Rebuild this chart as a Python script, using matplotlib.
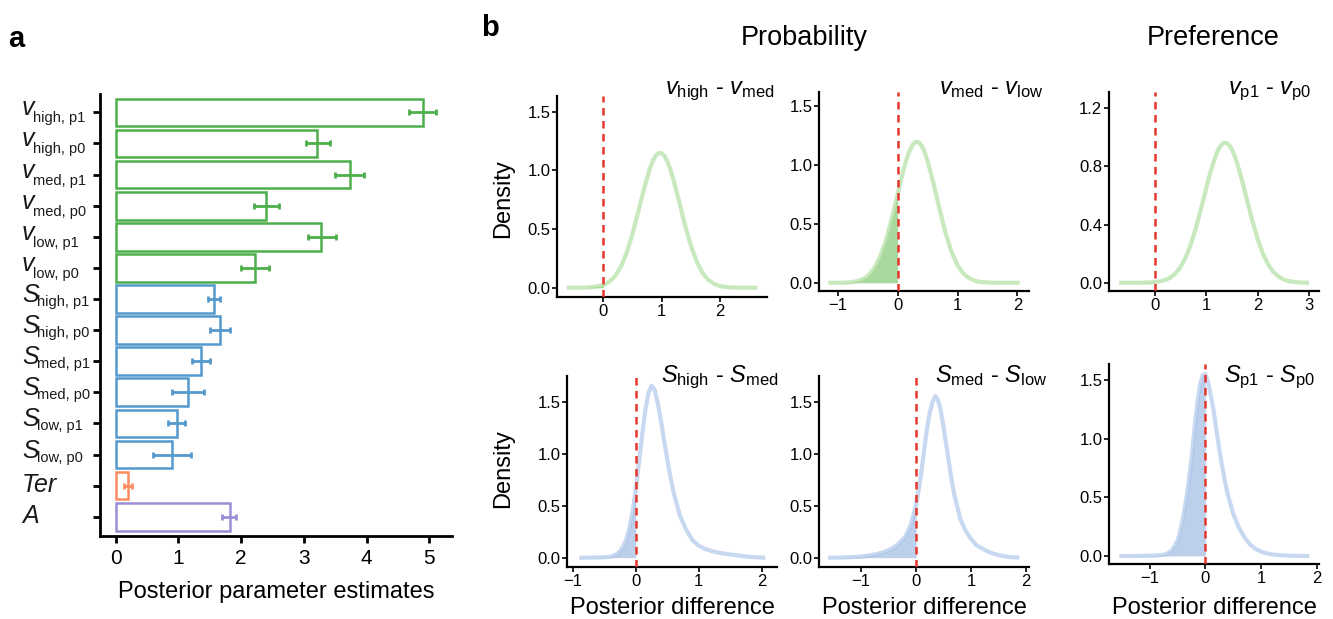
import numpy as np
import matplotlib
matplotlib.use("Agg")
import matplotlib.pyplot as plt
from matplotlib.transforms import offset_copy

plt.rcParams['font.family'] = ['Liberation Sans', 'DejaVu Sans']
plt.rcParams['mathtext.fontset'] = 'custom'
plt.rcParams['mathtext.rm'] = 'Liberation Sans'
plt.rcParams['mathtext.it'] = 'Liberation Sans:italic'
plt.rcParams['mathtext.bf'] = 'Liberation Sans:bold'

# ---------------- data: panel a ----------------
param_symbols = ['v', 'v', 'v', 'v', 'v', 'v', 'S', 'S', 'S', 'S', 'S', 'S', 'Ter', 'A']
param_subscripts = ['high, p1', 'high, p0', 'med, p1', 'med, p0', 'low, p1', 'low, p0',
                    'high, p1', 'high, p0', 'med, p1', 'med, p0', 'low, p1', 'low, p0', '', '']
param_values = [4.89, 3.21, 3.73, 2.40, 3.28, 2.22, 1.56, 1.66, 1.36, 1.16, 0.98, 0.90, 0.20, 1.82]
param_lower = [4.67, 3.03, 3.49, 2.20, 3.06, 1.99, 1.47, 1.50, 1.22, 0.89, 0.84, 0.60, 0.14, 1.70]
param_upper = [5.11, 3.41, 3.96, 2.61, 3.51, 2.45, 1.67, 1.82, 1.50, 1.41, 1.11, 1.20, 0.26, 1.92]
group_colors = {'v': '#4daf4a', 'S': '#5599cc', 'Ter': '#fc8d62', 'A': '#9b8ed6'}
xticks_a = [0, 1, 2, 3, 4, 5]

# ---------------- data: panel b (posterior difference densities) ----------------
vhm_x = [-0.63, -0.5, -0.4, -0.3, -0.2, -0.1, 0.0, 0.1, 0.2, 0.3, 0.4, 0.5, 0.6, 0.7, 0.8, 0.85, 0.9,
         0.95, 1.0, 1.05, 1.1, 1.15, 1.2, 1.3, 1.4, 1.5, 1.6, 1.7, 1.8, 1.9, 2.0, 2.1, 2.2, 2.3, 2.4,
         2.5, 2.64]
vhm_y = [0.0, 0.0, 0.0, 0.001, 0.004, 0.010, 0.023, 0.050, 0.098, 0.178, 0.298, 0.460, 0.651, 0.850,
         1.020, 1.083, 1.127, 1.148, 1.146, 1.120, 1.072, 1.005, 0.923, 0.732, 0.533, 0.358, 0.221,
         0.126, 0.066, 0.032, 0.014, 0.006, 0.002, 0.001, 0.0, 0.0, 0.0]

vml_x = [-1.16, -1.1, -1.0, -0.9, -0.8, -0.7, -0.6, -0.5, -0.4, -0.3, -0.2, -0.1, 0.0, 0.1, 0.15,
         0.2, 0.25, 0.3, 0.35, 0.4, 0.45, 0.5, 0.6, 0.7, 0.8, 0.9, 1.0, 1.1, 1.2, 1.3, 1.4, 1.5, 1.6,
         1.7, 1.8, 1.9, 2.0, 2.04]
vml_y = [0.0, 0.0, 0.0, 0.001, 0.004, 0.011, 0.026, 0.058, 0.116, 0.212, 0.355, 0.542, 0.756, 0.965,
         1.054, 1.124, 1.174, 1.198, 1.195, 1.166, 1.112, 1.037, 0.843, 0.626, 0.425, 0.263, 0.149,
         0.077, 0.037, 0.016, 0.006, 0.002, 0.001, 0.0, 0.0, 0.0, 0.0, 0.0]

vp_x = [-0.69, -0.5, -0.4, -0.3, -0.2, -0.1, 0.0, 0.1, 0.2, 0.3, 0.4, 0.5, 0.6, 0.7, 0.8, 0.9, 1.0,
        1.1, 1.2, 1.25, 1.3, 1.35, 1.4, 1.45, 1.5, 1.55, 1.6, 1.7, 1.8, 1.9, 2.0, 2.1, 2.2, 2.3, 2.4,
        2.5, 2.6, 2.7, 2.8, 2.9, 3.0]
vp_y = [0.0, 0.0, 0.0, 0.0, 0.001, 0.002, 0.004, 0.009, 0.018, 0.034, 0.062, 0.106, 0.171, 0.260,
        0.374, 0.506, 0.647, 0.779, 0.886, 0.924, 0.950, 0.963, 0.961, 0.946, 0.918, 0.877, 0.826,
        0.702, 0.562, 0.425, 0.303, 0.204, 0.129, 0.077, 0.044, 0.023, 0.012, 0.006, 0.002, 0.001,
        0.0]

shm_x = [-0.9, -0.8, -0.7, -0.6, -0.5, -0.4, -0.3, -0.25, -0.2, -0.15, -0.1, -0.05, 0.0, 0.05, 0.1,
         0.15, 0.2, 0.25, 0.3, 0.35, 0.4, 0.45, 0.5, 0.55, 0.6, 0.7, 0.8, 0.9, 1.0, 1.1, 1.2, 1.3,
         1.4, 1.5, 1.6, 1.7, 1.8, 1.9, 2.06]
shm_y = [0.0, 0.0, 0.001, 0.002, 0.004, 0.010, 0.035, 0.065, 0.11, 0.18, 0.29, 0.45, 0.66, 0.92, 1.18,
         1.42, 1.59, 1.66, 1.62, 1.49, 1.32, 1.13, 0.95, 0.78, 0.63, 0.41, 0.27, 0.17, 0.115, 0.085,
         0.065, 0.050, 0.040, 0.032, 0.024, 0.015, 0.008, 0.004, 0.0]

sml_x = [-1.6, -1.4, -1.2, -1.0, -0.9, -0.8, -0.7, -0.6, -0.5, -0.4, -0.3, -0.2, -0.1, 0.0, 0.05, 0.1,
         0.15, 0.2, 0.25, 0.3, 0.35, 0.4, 0.45, 0.5, 0.55, 0.6, 0.65, 0.7, 0.8, 0.9, 1.0, 1.1, 1.2,
         1.3, 1.4, 1.5, 1.6, 1.7, 1.8, 1.88]
sml_y = [0.0, 0.001, 0.004, 0.011, 0.018, 0.026, 0.037, 0.052, 0.072, 0.10, 0.145, 0.20, 0.31, 0.51,
         0.66, 0.84, 1.05, 1.25, 1.40, 1.50, 1.56, 1.52, 1.42, 1.26, 1.09, 0.91, 0.74, 0.60, 0.38,
         0.26, 0.18, 0.12, 0.09, 0.06, 0.04, 0.025, 0.014, 0.007, 0.003, 0.0]

sp_x = [-1.55, -1.3, -1.1, -0.9, -0.8, -0.7, -0.6, -0.5, -0.45, -0.4, -0.35, -0.3, -0.25, -0.2, -0.15,
        -0.1, -0.05, 0.0, 0.05, 0.1, 0.15, 0.2, 0.25, 0.3, 0.35, 0.4, 0.5, 0.6, 0.7, 0.8, 0.9, 1.0,
        1.1, 1.2, 1.3, 1.5, 1.7, 1.87]
sp_y = [0.0, 0.0, 0.001, 0.003, 0.007, 0.017, 0.05, 0.13, 0.22, 0.33, 0.47, 0.64, 0.83, 1.07, 1.28,
        1.45, 1.54, 1.55, 1.48, 1.36, 1.23, 1.07, 0.91, 0.77, 0.64, 0.53, 0.36, 0.245, 0.16, 0.10,
        0.06, 0.038, 0.023, 0.013, 0.008, 0.003, 0.001, 0.0]

panel_titles = [r'$v_{\mathrm{high}}$ - $v_{\mathrm{med}}$', r'$v_{\mathrm{med}}$ - $v_{\mathrm{low}}$',
                r'$v_{\mathrm{p1}}$ - $v_{\mathrm{p0}}$', r'$S_{\mathrm{high}}$ - $S_{\mathrm{med}}$',
                r'$S_{\mathrm{med}}$ - $S_{\mathrm{low}}$', r'$S_{\mathrm{p1}}$ - $S_{\mathrm{p0}}$']
column_headers = ['Probability', 'Preference']

# ---------------- figure ----------------
W, H = 1333, 619
fig = plt.figure(figsize=(W / 100, H / 100), dpi=100)


def px_axes(l, t, r, b):
    return fig.add_axes([l / W, 1 - b / H, (r - l) / W, (b - t) / H])


def fig_text(x, y, s, **kw):
    fig.text(x / W, 1 - y / H, s, **kw)


# ---------------- panel a ----------------
axa = px_axes(100, 94, 452, 536)
ypos = np.arange(len(param_values))
vals = np.array(param_values)
for i in range(len(vals)):
    col = group_colors[param_symbols[i]]
    axa.barh(ypos[i], vals[i], height=0.89, facecolor='white', edgecolor=col, linewidth=1.8)
    axa.errorbar(vals[i], ypos[i], xerr=[[vals[i] - param_lower[i]], [param_upper[i] - vals[i]]],
                 fmt='none', ecolor=col, elinewidth=2.0, capsize=2.2, capthick=2.0)
axa.set_ylim(13.62, -0.59)
axa.set_xlim(-0.25, 5.36)
axa.set_xticks(xticks_a)
axa.set_yticks(ypos)
axa.set_yticklabels([])
axa.tick_params(axis='y', length=5, width=2)
axa.tick_params(axis='x', length=5, width=2, pad=4, labelsize=15)
for sp in ['top', 'right']:
    axa.spines[sp].set_visible(False)
for sp in ['left', 'bottom']:
    axa.spines[sp].set_linewidth(2)

# y labels: italic symbol with small subscript, left aligned
ytrans = axa.get_yaxis_transform()
label_x = (22 - 100) / 352
sym_size = {'v': 18, 'S': 18, 'Ter': 18, 'A': 18}
sym_dy = {'v': -3, 'S': -3, 'Ter': -6, 'A': -6}
sub_dx = {'v': 11, 'S': 15}
sub_dy = {'v': -10, 'S': -7}
for i, (sym, sub) in enumerate(zip(param_symbols, param_subscripts)):
    t1 = offset_copy(ytrans, fig=fig, x=0, y=sym_dy[sym], units='dots')
    axa.text(label_x, ypos[i], sym, fontsize=sym_size[sym], fontstyle='italic', color='#1a1a1a',
             ha='left', va='baseline', transform=t1, clip_on=False)
    if sub:
        t2 = offset_copy(ytrans, fig=fig, x=sub_dx[sym], y=sub_dy[sym], units='dots')
        axa.text(label_x, ypos[i], sub, fontsize=10.5, color='#1a1a1a',
                 ha='left', va='baseline', transform=t2, clip_on=False)

fig_text(276, 598, 'Posterior parameter estimates', fontsize=17, ha='center', va='baseline')

# ---------------- panel b ----------------
green_line, green_fill = '#abdc9b', '#aad9a0'
blue_line, blue_fill = '#a9c4e8', '#bdd0eb'
red = '#e5352c'

panels = [
    # x, y, box(l,t,r,b), xlim, ylim, xticks, yticks, line, fill
    (vhm_x, vhm_y, (557.3, 96, 767.3, 296.7), (-0.79, 2.81), (-0.077, 1.634), [0, 1, 2],
     [0, 0.5, 1.0, 1.5], green_line, green_fill),
    (vml_x, vml_y, (819.3, 92.3, 1029.3, 291), (-1.31, 2.2), (-0.07, 1.62), [-1, 0, 1, 2],
     [0, 0.5, 1.0, 1.5], green_line, green_fill),
    (vp_x, vp_y, (1109.3, 92.3, 1319.3, 291), (-0.88, 3.2), (-0.057, 1.31), [0, 1, 2, 3],
     [0, 0.4, 0.8, 1.2], green_line, green_fill),
    (shm_x, shm_y, (567.3, 376.4, 777.3, 566.7), (-1.09, 2.25), (-0.087, 1.75), [-1, 0, 1, 2],
     [0, 0.5, 1.0, 1.5], blue_line, blue_fill),
    (sml_x, sml_y, (819.3, 376.4, 1029.3, 566.7), (-1.76, 2.06), (-0.087, 1.75), [-1, 0, 1, 2],
     [0, 0.5, 1.0, 1.5], blue_line, blue_fill),
    (sp_x, sp_y, (1109.3, 363.6, 1319.3, 564.3), (-1.73, 2.05), (-0.071, 1.64), [-1, 0, 1, 2],
     [0, 0.5, 1.0, 1.5], blue_line, blue_fill),
]
title_centers = [(720, 94), (991, 94), (1270, 94), (720, 382), (991, 382), (1270, 382)]

for k, (xs, ys, box, xl, yl, xt, yt, lc, fc) in enumerate(panels):
    ax = px_axes(*box)
    x = np.array(xs)
    y = np.array(ys)
    m = x <= 0
    ax.fill_between(x[m], 0, y[m], color=fc, linewidth=0, zorder=1)
    ax.plot(x, y, color=lc, lw=3.0, alpha=0.65, solid_joinstyle='round', solid_capstyle='butt',
            zorder=2)
    ax.axvline(0, color=red, lw=1.8, linestyle=(0, (3.0, 2.2)), zorder=3)
    ax.set_xlim(*xl)
    ax.set_ylim(*yl)
    ax.set_xticks(xt)
    ax.set_yticks(yt)
    ax.set_yticklabels(['%.1f' % v for v in yt])
    ax.tick_params(length=3.5, width=1.2, labelsize=12, pad=1.5)
    for sp in ['top', 'right']:
        ax.spines[sp].set_visible(False)
    for sp in ['left', 'bottom']:
        ax.spines[sp].set_linewidth(1.6)
    cx, cy = title_centers[k]
    fig_text(cx, cy, panel_titles[k], fontsize=17, ha='center', va='baseline')

fig_text(503, 198.5, 'Density', fontsize=17, rotation=90, ha='center', va='center')
fig_text(503, 468.5, 'Density', fontsize=17, rotation=90, ha='center', va='center')
for cx in [672, 924, 1214]:
    fig_text(cx, 614, 'Posterior difference', fontsize=17, ha='center', va='baseline')

fig_text(804, 45, column_headers[0], fontsize=19.5, ha='center', va='baseline')
fig_text(1213, 45, column_headers[1], fontsize=19.5, ha='center', va='baseline')

fig_text(8, 47, 'a', fontsize=21, fontweight='bold', ha='left', va='baseline')
fig_text(481, 36, 'b', fontsize=21, fontweight='bold', ha='left', va='baseline')

fig.savefig('out.png', dpi=100)
